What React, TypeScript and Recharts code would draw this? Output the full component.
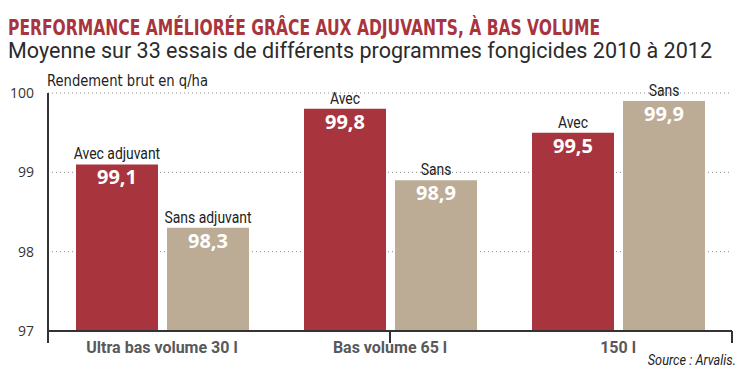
import React from "react";
import { BarChart, Bar, XAxis, YAxis, CartesianGrid, LabelList, ReferenceLine } from "recharts";

const categories = ["Ultra bas volume 30 l", "Bas volume 65 l", "150 l"];
const avecValues = [99.1, 99.8, 99.5];
const sansValues = [98.3, 98.9, 99.9];
const avecNames = ["Avec adjuvant", "Avec", "Avec"];
const sansNames = ["Sans adjuvant", "Sans", "Sans"];
const yTicks = [97, 98, 99, 100];
const edgeTicks = [0, 1, 2, 3];

const RED = "#a8353d";
const TAN = "#bcab95";
const DARK = "#333333";
const NARROW = "'DejaVu Sans Condensed', sans-serif";
const TICK_DEPTH = 96.85; // bas des petits traits sous l'axe

const data = categories.map((cat, i) => ({
  cat,
  avec: avecValues[i],
  sans: sansValues[i],
}));

// nom au-dessus de la barre + valeur en blanc dedans
function barLabel(names: string[]) {
  return (p: any) => {
    const { x, y, width, value, index } = p;
    const cx = Number(x) + Number(width) / 2;
    const top = Number(y);
    return (
      <g>
        <text
          transform={`translate(${cx},${top - 5}) scale(0.87,1)`}
          textAnchor="middle"
          fontFamily="Roboto, sans-serif"
          fontSize={16}
          fill="#222"
        >
          {names[index]}
        </text>
        <text
          x={cx}
          y={top + 20}
          textAnchor="middle"
          fontFamily="'Open Sans', sans-serif"
          fontWeight={700}
          fontSize={20}
          fill="#fff"
        >
          {Number(value).toFixed(1).replace(".", ",")}
        </text>
      </g>
    );
  };
}

function CatTick(p: any) {
  const { x, y, payload } = p;
  return (
    <text
      x={x}
      y={Number(y) + 22}
      textAnchor="middle"
      fontFamily="Roboto, sans-serif"
      fontWeight={700}
      fontSize={16}
      fill="#58595b"
    >
      {payload.value}
    </text>
  );
}

export default function App() {
  return (
    <div style={{ position: "absolute", left: 0, top: 0, width: 747, height: 373, background: "#fff", overflow: "hidden" }}>
      <BarChart
        width={747}
        height={373}
        data={data}
        margin={{ top: 93, right: 15, bottom: 0, left: 8 }}
        barGap={9}
        style={{ fontFamily: "'Open Sans', sans-serif" }}
      >
        <CartesianGrid xAxisId="cat" vertical={false} stroke="#8a8a8a" strokeDasharray="1 3" />
        <XAxis
          xAxisId="cat"
          dataKey="cat"
          height={42}
          axisLine={false}
          tickLine={false}
          tickSize={0}
          tickMargin={0}
          tick={<CatTick />}
          interval={0}
        />
        <XAxis xAxisId="edge" type="number" domain={[0, 3]} ticks={edgeTicks} hide />
        <YAxis
          domain={[97, 100]}
          ticks={yTicks}
          allowDataOverflow
          width={40}
          axisLine={false}
          tickLine={false}
          tickMargin={8}
          tick={{ fill: DARK, fontSize: 14 }}
        />
        <Bar xAxisId="cat" dataKey="avec" fill={RED} barSize={82} isAnimationActive={false}>
          <LabelList dataKey="avec" content={barLabel(avecNames)} />
        </Bar>
        <Bar xAxisId="cat" dataKey="sans" fill={TAN} barSize={82} isAnimationActive={false}>
          <LabelList dataKey="sans" content={barLabel(sansNames)} />
        </Bar>
        {/* axe vertical, qui descend sous l'axe horizontal */}
        <ReferenceLine
          xAxisId="edge"
          segment={[{ x: 0, y: 100 }, { x: 0, y: TICK_DEPTH }]}
          stroke={DARK}
          strokeWidth={2}
          ifOverflow="visible"
        />
        <ReferenceLine xAxisId="edge" y={97} stroke={DARK} strokeWidth={2} ifOverflow="visible" />
        {edgeTicks.slice(1).map((t) => (
          <ReferenceLine
            key={t}
            xAxisId="edge"
            segment={[{ x: t, y: 97 }, { x: t, y: TICK_DEPTH }]}
            stroke={DARK}
            strokeWidth={2}
            ifOverflow="visible"
          />
        ))}
      </BarChart>
      <svg width={747} height={373} style={{ position: "absolute", left: 0, top: 0, pointerEvents: "none" }}>
        <text x={8} y={35} fontFamily={NARROW} fontWeight={700} fontSize={21} fill={RED} textLength={592} lengthAdjust="spacingAndGlyphs">
          PERFORMANCE AMÉLIORÉE GRÂCE AUX ADJUVANTS, À BAS VOLUME
        </text>
        <text x={8} y={58} fontFamily="Roboto, sans-serif" fontSize={22} fill="#2b2b2b" textLength={704} lengthAdjust="spacingAndGlyphs">
          Moyenne sur 33 essais de différents programmes fongicides 2010 à 2012
        </text>
        <text x={47} y={86} fontFamily={NARROW} fontSize={16} fill="#222" textLength={161} lengthAdjust="spacingAndGlyphs">
          Rendement brut en q/ha
        </text>
        <text
          transform="translate(736,365) scale(0.85,1)"
          textAnchor="end"
          fontFamily="Roboto, sans-serif"
          fontStyle="italic"
          fontSize={15}
          fill="#222"
        >
          Source : Arvalis.
        </text>
      </svg>
    </div>
  );
}
